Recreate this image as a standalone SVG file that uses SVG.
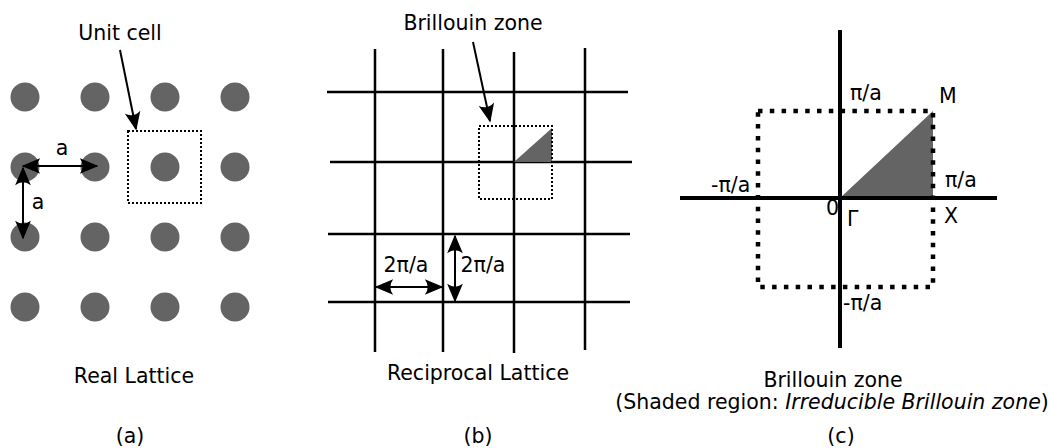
<svg xmlns="http://www.w3.org/2000/svg" width="1049" height="448" viewBox="0 0 1049 448">
<style>
text{font-family:"DejaVu Sans","Liberation Sans",sans-serif;font-size:20.5px;fill:#000}
.dot{fill:#646464}
.grid{stroke:#000;stroke-width:2.5;fill:none}
.arr{stroke:#000;stroke-width:2;fill:none}
.thin{stroke:#000;stroke-width:2;stroke-dasharray:2,2;fill:none}
.thick{stroke:#000;stroke-width:4.5;stroke-dasharray:4.5,7.3;fill:none}
.axis{stroke:#000;stroke-width:4;fill:none}
.shade{fill:#646464}
.m{text-anchor:middle}
</style>
<defs>
<marker id="ah" markerUnits="userSpaceOnUse" markerWidth="20" markerHeight="20" refX="0" refY="0" viewBox="-13 -7 14 14" orient="auto-start-reverse" overflow="visible">
<path d="M1,0 L-12,-5.5 Q-8,0 -12,5.5 Z" fill="#000"/>
</marker>
</defs>
<g id="panel-a">
<g id="atoms">
<circle class="dot" cx="25" cy="97" r="14.5"/><circle class="dot" cx="95" cy="97" r="14.5"/><circle class="dot" cx="165" cy="97" r="14.5"/><circle class="dot" cx="235" cy="97" r="14.5"/>
<circle class="dot" cx="25" cy="167" r="14.5"/><circle class="dot" cx="95" cy="167" r="14.5"/><circle class="dot" cx="165" cy="167" r="14.5"/><circle class="dot" cx="235" cy="167" r="14.5"/>
<circle class="dot" cx="25" cy="237" r="14.5"/><circle class="dot" cx="95" cy="237" r="14.5"/><circle class="dot" cx="165" cy="237" r="14.5"/><circle class="dot" cx="235" cy="237" r="14.5"/>
<circle class="dot" cx="25" cy="307" r="14.5"/><circle class="dot" cx="95" cy="307" r="14.5"/><circle class="dot" cx="165" cy="307" r="14.5"/><circle class="dot" cx="235" cy="307" r="14.5"/>
</g>
<g id="unit-cell"><rect class="thin" x="128" y="131" width="73" height="72"/></g>
<text x="120" y="40" class="m">Unit cell</text>
<text x="62" y="155" class="m">a</text>
<text x="38" y="209" class="m">a</text>
<text x="134" y="383" class="m">Real Lattice</text>
<text x="130" y="443" class="m">(a)</text>
</g>
<g id="panel-b">
<g id="grid">
<line class="grid" x1="375" y1="49" x2="375" y2="352"/>
<line class="grid" x1="443" y1="49" x2="443" y2="352"/>
<line class="grid" x1="514" y1="52" x2="514" y2="353"/>
<line class="grid" x1="585" y1="48" x2="585" y2="350"/>
<line class="grid" x1="327" y1="92" x2="628" y2="92"/>
<line class="grid" x1="330" y1="162" x2="632" y2="162"/>
<line class="grid" x1="328" y1="234" x2="630" y2="234"/>
<line class="grid" x1="328" y1="302" x2="630" y2="302"/>
</g>
<g id="bz-small">
<polygon class="shade" points="514,162 552,128 552,162"/>
<rect class="thin" x="479" y="126" width="73" height="73"/>
</g>
<text x="473" y="30" class="m">Brillouin zone</text>
<text x="406" y="272" class="m">2π/a</text>
<text x="483" y="272" class="m">2π/a</text>
<text x="478" y="380" class="m">Reciprocal Lattice</text>
<text x="478" y="443" class="m">(b)</text>
</g>
<g id="panel-c">
<g id="bz-large">
<polygon class="shade" points="840,198 933,111 933,198"/>
<line class="axis" x1="840" y1="30" x2="840" y2="348"/>
<line class="axis" x1="680" y1="198" x2="997" y2="198"/>
<path class="thick" d="M758,111 H933 V287 H758 Z"/>
</g>
<text x="850" y="100">π/a</text>
<text x="939" y="103">M</text>
<text x="711" y="192">-π/a</text>
<text x="945" y="187">π/a</text>
<text x="826" y="215">0</text>
<text x="847" y="226">Γ</text>
<text x="944" y="223">X</text>
<text x="843" y="310">-π/a</text>
<text x="833" y="387" class="m">Brillouin zone</text>
<text x="832" y="409" class="m">(Shaded region: <tspan font-style="italic">Irreducible Brillouin zone</tspan>)</text>
<text x="841" y="443" class="m">(c)</text>
</g>
<g id="connectors">
<line class="arr" x1="120" y1="50" x2="136" y2="129" marker-end="url(#ah)"/>
<line class="arr" x1="23" y1="166" x2="97" y2="166" marker-start="url(#ah)" marker-end="url(#ah)"/>
<line class="arr" x1="23" y1="168" x2="23" y2="238" marker-start="url(#ah)" marker-end="url(#ah)"/>
<line class="arr" x1="473" y1="42" x2="490" y2="121" marker-end="url(#ah)"/>
<line class="arr" x1="376" y1="287" x2="442" y2="287" marker-start="url(#ah)" marker-end="url(#ah)"/>
<line class="arr" x1="455" y1="236" x2="455" y2="301" marker-start="url(#ah)" marker-end="url(#ah)"/>
</g>
</svg>
